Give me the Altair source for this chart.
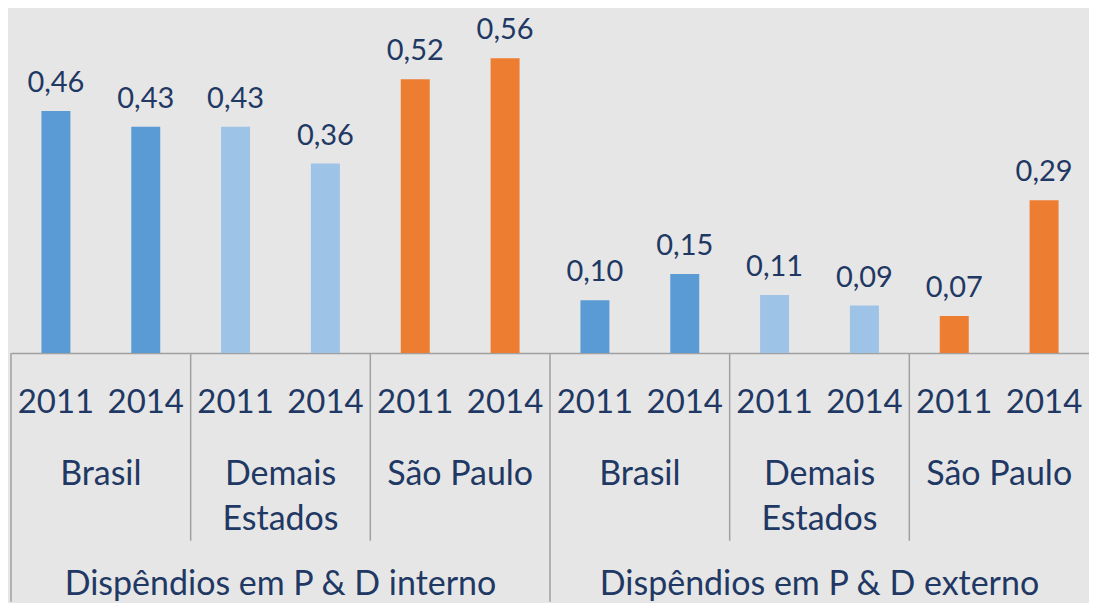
import altair as alt
import pandas as pd

groups = ["Dispêndios em P & D interno"] * 6 + ["Dispêndios em P & D externo"] * 6
categories = ["Brasil", "Brasil", "Demais\nEstados", "Demais\nEstados", "São Paulo", "São Paulo"] * 2
series = ["Brasil", "Brasil", "Demais Estados", "Demais Estados", "São Paulo", "São Paulo"] * 2
years = ["2011", "2014"] * 6
values = [0.46, 0.43, 0.43, 0.36, 0.52, 0.56, 0.10, 0.15, 0.11, 0.09, 0.07, 0.29]

series_names = ["Brasil", "Demais Estados", "São Paulo"]
series_colors = ["#5b9bd5", "#9dc3e6", "#ed7d31"]

TEXT = "#1f3864"
LINE = "#a0a0a0"
FONT = "Lato"
W, H = 1079, 345
BOTTOM = 594

slots = [f"{g}|{c}|{y}" for g, c, y in zip(groups, categories, years)]
df = pd.DataFrame({
    "slot": slots, "group": groups, "category": categories,
    "series": series, "year": years, "value": values,
    "label": [f"{v:.2f}".replace(".", ",") for v in values],
})

xs = alt.Scale(paddingInner=0, paddingOuter=0)
X = alt.X("slot:N", sort=slots, scale=xs,
          axis=alt.Axis(labels=False, ticks=False, title=None, grid=False,
                        domainColor=LINE, domainWidth=1.5))
ys = alt.Scale(domain=[0, 0.655], nice=False)
base = alt.Chart(df)

bars = base.mark_bar(size=29).encode(
    x=X,
    y=alt.Y("value:Q", scale=ys, axis=None),
    color=alt.Color("series:N", scale=alt.Scale(domain=series_names, range=series_colors), legend=None),
)
vals = base.mark_text(baseline="alphabetic", dy=-19, font=FONT, fontSize=29, color=TEXT).encode(
    x=X, y=alt.Y("value:Q", scale=ys), text="label:N"
)
yrs = base.mark_text(baseline="alphabetic", font=FONT, fontSize=33, color=TEXT).encode(
    x=X, y=alt.value(405), text="year:N"
)

pair_df = df[df["year"] == "2014"]
cats = alt.Chart(pair_df).mark_text(baseline="alphabetic", font=FONT, fontSize=34, color=TEXT,
                                    lineBreak="\n", lineHeight=45).encode(
    x=alt.X("slot:N", sort=slots, scale=xs, bandPosition=0), y=alt.value(477), text="category:N"
)

# the centre of each group of six bands is the start of its fourth band
grp_df = df[(df["category"] == "Demais\nEstados") & (df["year"] == "2014")]
grps = alt.Chart(grp_df).mark_text(baseline="alphabetic", font=FONT, fontSize=34, color=TEXT).encode(
    x=alt.X("slot:N", sort=slots, scale=xs, bandPosition=0), y=alt.value(587), text="group:N"
)

first_df = df[df["year"] == "2011"]
outer_df = first_df[first_df["category"] == "Brasil"]
inner_df = first_df[first_df["category"] != "Brasil"]
outer = alt.Chart(outer_df).mark_rule(color=LINE, strokeWidth=1.5).encode(
    x=alt.X("slot:N", sort=slots, scale=xs, bandPosition=0), y=alt.value(H), y2=alt.value(BOTTOM)
)
inner = alt.Chart(inner_df).mark_rule(color=LINE, strokeWidth=1.5).encode(
    x=alt.X("slot:N", sort=slots, scale=xs, bandPosition=0), y=alt.value(H), y2=alt.value(533)
)

chart = alt.layer(bars, vals, yrs, cats, grps, outer, inner).properties(
    width=W, height=H, padding={"left": 2, "top": 0, "right": 0, "bottom": 0},
    background="#e6e6e6",
).configure_view(strokeWidth=0)

chart.save("out.html", embed_options={"renderer": "svg", "actions": False})
